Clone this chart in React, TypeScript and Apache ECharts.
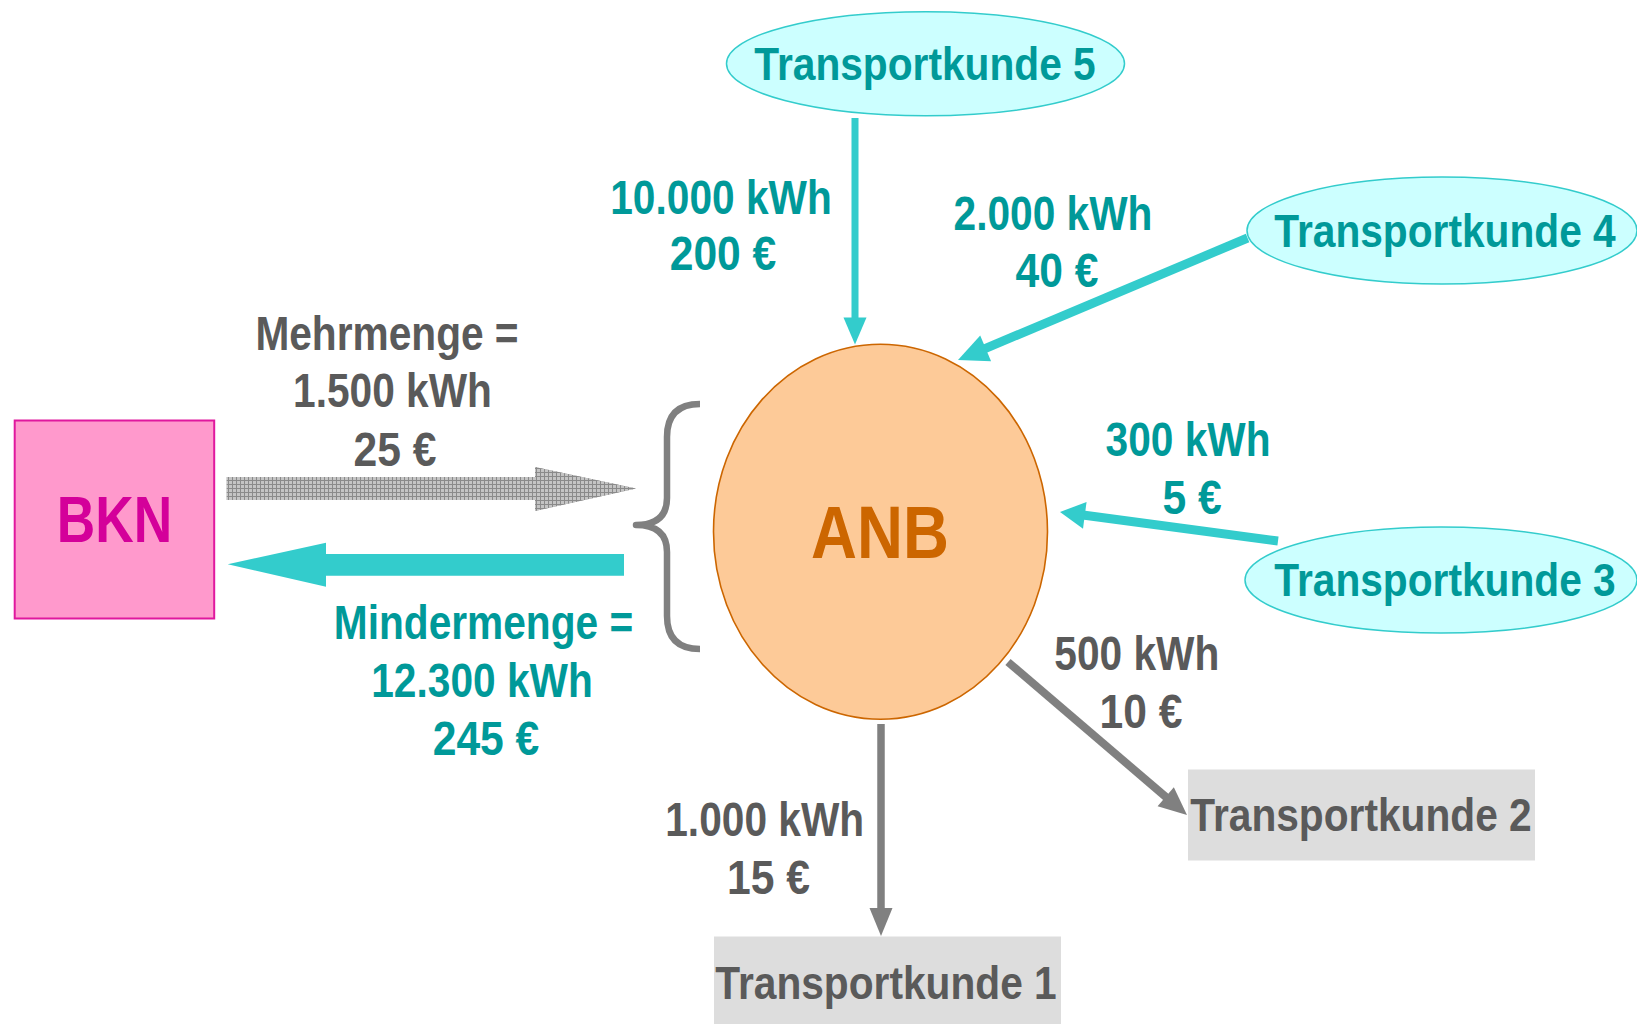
import React, { useEffect, useRef } from 'react';
import * as echarts from 'echarts';

// ---- Diagram content (texts only) ----
const partyNames = ['BKN', 'ANB'];
const customerNames = ['Transportkunde 1', 'Transportkunde 2', 'Transportkunde 3', 'Transportkunde 4', 'Transportkunde 5'];
const flowEnergy = ['1.000 kWh', '500 kWh', '300 kWh', '2.000 kWh', '10.000 kWh'];
const flowCost = ['15 €', '10 €', '5 €', '40 €', '200 €'];
const balanceTitles = ['Mehrmenge =', 'Mindermenge ='];
const balanceEnergy = ['1.500 kWh', '12.300 kWh'];
const balanceCost = ['25 €', '245 €'];

// ---- Styles ----
const FONT = '"Liberation Sans", Arial, Helvetica, sans-serif';
const TEAL_TEXT = '#009999';
const GRAY_TEXT = '#5a5a5a';
const TEAL = '#33cccc';
const GRAY = '#808080';
const LABEL_SX = 0.83;
const COST_SX = 0.87;
const CUST_SX = 0.875;

let braceRegistered = false;
function ensureBrace() {
  if (braceRegistered) return;
  echarts.graphic.registerShape(
    'brace',
    echarts.graphic.extendPath(
      'M700 404 Q667 404 667 437 L667 498 Q667 525 636 525 Q667 525 667 552 L667 616 Q667 649 700 649',
      {}
    ) as any
  );
  braceRegistered = true;
}

function txt(text: string, cx: number, cy: number, size: number, color: string, sx: number, z = 20) {
  return {
    type: 'text',
    x: cx,
    y: cy,
    scaleX: sx,
    scaleY: 1,
    z,
    style: {
      text,
      x: 0,
      y: 0,
      align: 'center',
      verticalAlign: 'middle',
      fontFamily: FONT,
      fontWeight: 'bold',
      fontSize: size,
      fill: color,
    },
  };
}

function arrow(x1: number, y1: number, x2: number, y2: number, w: number, hl: number, hw: number, color: string) {
  const dx = x2 - x1;
  const dy = y2 - y1;
  const L = Math.hypot(dx, dy);
  const ux = dx / L;
  const uy = dy / L;
  const bx = x2 - ux * hl;
  const by = y2 - uy * hl;
  const px = -uy;
  const py = ux;
  return [
    {
      type: 'line',
      z: 5,
      shape: { x1, y1, x2: bx + ux * 2, y2: by + uy * 2 },
      style: { stroke: color, lineWidth: w, lineCap: 'butt' },
    },
    {
      type: 'polygon',
      z: 5,
      shape: {
        points: [
          [x2, y2],
          [bx + (px * hw) / 2, by + (py * hw) / 2],
          [bx - (px * hw) / 2, by - (py * hw) / 2],
        ],
      },
      style: { fill: color },
    },
  ];
}

function makeHatch(): string {
  const c = document.createElement('canvas');
  c.width = 4;
  c.height = 4;
  const ctx = c.getContext('2d')!;
  ctx.fillStyle = '#c4c4c4';
  ctx.fillRect(0, 0, 4, 4);
  ctx.fillStyle = '#8a8a8a';
  ctx.fillRect(0, 0, 4, 1);
  ctx.fillRect(0, 0, 1, 4);
  return c.toDataURL();
}

export default function App() {
  const ref = useRef<HTMLDivElement>(null);

  useEffect(() => {
    if (!ref.current) return;
    ensureBrace();
    const chart = echarts.init(ref.current, undefined, { renderer: 'svg' });
    const hatch = makeHatch();

    const mehrArrow = [
      [226.7, 477], [535, 477], [535, 467], [636, 488.5], [535, 511], [535, 500], [226.7, 500],
    ];
    const minderArrow = [
      [227.7, 564.3], [326, 542.7], [326, 554], [624, 554], [624, 575.7], [326, 575.7], [326, 586.7],
    ];

    const elements: any[] = [
      // BKN box
      {
        type: 'rect', z: 2,
        shape: { x: 14.7, y: 420.5, width: 199.5, height: 198 },
        style: { fill: '#ff99cc', stroke: '#e0189e', lineWidth: 2 },
      },
      txt(partyNames[0], 114.5, 520, 65, '#d4009a', 0.82),

      // ANB ellipse
      {
        type: 'ellipse', z: 2,
        shape: { cx: 880.5, cy: 531.7, rx: 167, ry: 187.5 },
        style: { fill: '#fdca98', stroke: '#cc6600', lineWidth: 1.6 },
      },
      txt(partyNames[1], 880, 533.3, 74, '#cc6600', 0.86),

      // Brace
      {
        type: 'brace', z: 3, x: 0, y: 0,
        style: { fill: 'none', stroke: GRAY, lineWidth: 6.5, lineJoin: 'round' },
      },

      // Mehrmenge arrow (hatched)
      { type: 'polygon', z: 4, shape: { points: mehrArrow }, style: { fill: '#a3a3a3' } },
      {
        type: 'polygon', z: 4,
        shape: { points: mehrArrow },
        style: { fill: { image: hatch, repeat: 'repeat', imageWidth: 4, imageHeight: 4 } },
      },
      // Mindermenge arrow
      { type: 'polygon', z: 4, shape: { points: minderArrow }, style: { fill: TEAL } },

      // Customer 5 ellipse
      {
        type: 'ellipse', z: 2,
        shape: { cx: 925.5, cy: 63.7, rx: 199, ry: 52 },
        style: { fill: '#ccffff', stroke: TEAL, lineWidth: 1.5 },
      },
      // Customer 4 ellipse
      {
        type: 'ellipse', z: 2,
        shape: { cx: 1442, cy: 230.5, rx: 195, ry: 53.5 },
        style: { fill: '#ccffff', stroke: TEAL, lineWidth: 1.5 },
      },
      // Customer 3 ellipse
      {
        type: 'ellipse', z: 2,
        shape: { cx: 1441, cy: 580, rx: 196, ry: 53 },
        style: { fill: '#ccffff', stroke: TEAL, lineWidth: 1.5 },
      },
      // Customer 2 box
      {
        type: 'rect', z: 2,
        shape: { x: 1188, y: 769.5, width: 347, height: 91 },
        style: { fill: '#dddddd' },
      },
      // Customer 1 box
      {
        type: 'rect', z: 2,
        shape: { x: 714, y: 936.5, width: 347, height: 88 },
        style: { fill: '#dddddd' },
      },

      // Arrows
      ...arrow(855, 118, 855, 344.5, 7, 27, 23, TEAL),
      ...arrow(1247.6, 238, 958, 360, 9, 30, 28, TEAL),
      ...arrow(1278, 541, 1060, 512, 9, 25, 27, TEAL),
      ...arrow(1008, 662, 1187, 815, 8, 28, 25, GRAY),
      ...arrow(881, 724, 881, 936, 7.5, 28, 23, GRAY),

      // Customer labels
      txt(customerNames[0], 886, 982.5, 46.5, GRAY_TEXT, CUST_SX),
      txt(customerNames[1], 1361, 815, 46.5, GRAY_TEXT, CUST_SX),
      txt(customerNames[2], 1445, 580, 46.5, TEAL_TEXT, CUST_SX),
      txt(customerNames[3], 1445, 231, 46.5, TEAL_TEXT, CUST_SX),
      txt(customerNames[4], 925, 63.5, 46.5, TEAL_TEXT, CUST_SX),

      // Flow labels
      txt(flowEnergy[0], 764.7, 819, 49, GRAY_TEXT, LABEL_SX),
      txt(flowCost[0], 768.4, 876.5, 49, GRAY_TEXT, COST_SX),
      txt(flowEnergy[1], 1136.8, 653, 49, GRAY_TEXT, LABEL_SX),
      txt(flowCost[1], 1141, 710.5, 49, GRAY_TEXT, COST_SX),
      txt(flowEnergy[2], 1188, 439, 49, TEAL_TEXT, LABEL_SX),
      txt(flowCost[2], 1192, 496.5, 49, TEAL_TEXT, COST_SX),
      txt(flowEnergy[3], 1053, 212.7, 49, TEAL_TEXT, LABEL_SX),
      txt(flowCost[3], 1057, 270, 49, TEAL_TEXT, COST_SX),
      txt(flowEnergy[4], 721, 197.5, 49, TEAL_TEXT, LABEL_SX),
      txt(flowCost[4], 723, 253, 49, TEAL_TEXT, COST_SX),

      // Balance labels
      txt(balanceTitles[0], 387, 333, 49, GRAY_TEXT, LABEL_SX),
      txt(balanceEnergy[0], 392.5, 390.5, 49, GRAY_TEXT, LABEL_SX),
      txt(balanceCost[0], 395, 449, 49, GRAY_TEXT, COST_SX),
      txt(balanceTitles[1], 483.5, 622.5, 49, TEAL_TEXT, LABEL_SX),
      txt(balanceEnergy[1], 482, 680.5, 49, TEAL_TEXT, LABEL_SX),
      txt(balanceCost[1], 486, 737.5, 49, TEAL_TEXT, COST_SX),
    ];

    chart.setOption({
      animation: false,
      backgroundColor: '#ffffff',
      graphic: { elements },
    });

    return () => {
      chart.dispose();
    };
  }, []);

  return (
    <div
      ref={ref}
      style={{ position: 'absolute', left: 0, top: 0, width: 1637, height: 1024, background: '#ffffff' }}
    />
  );
}
